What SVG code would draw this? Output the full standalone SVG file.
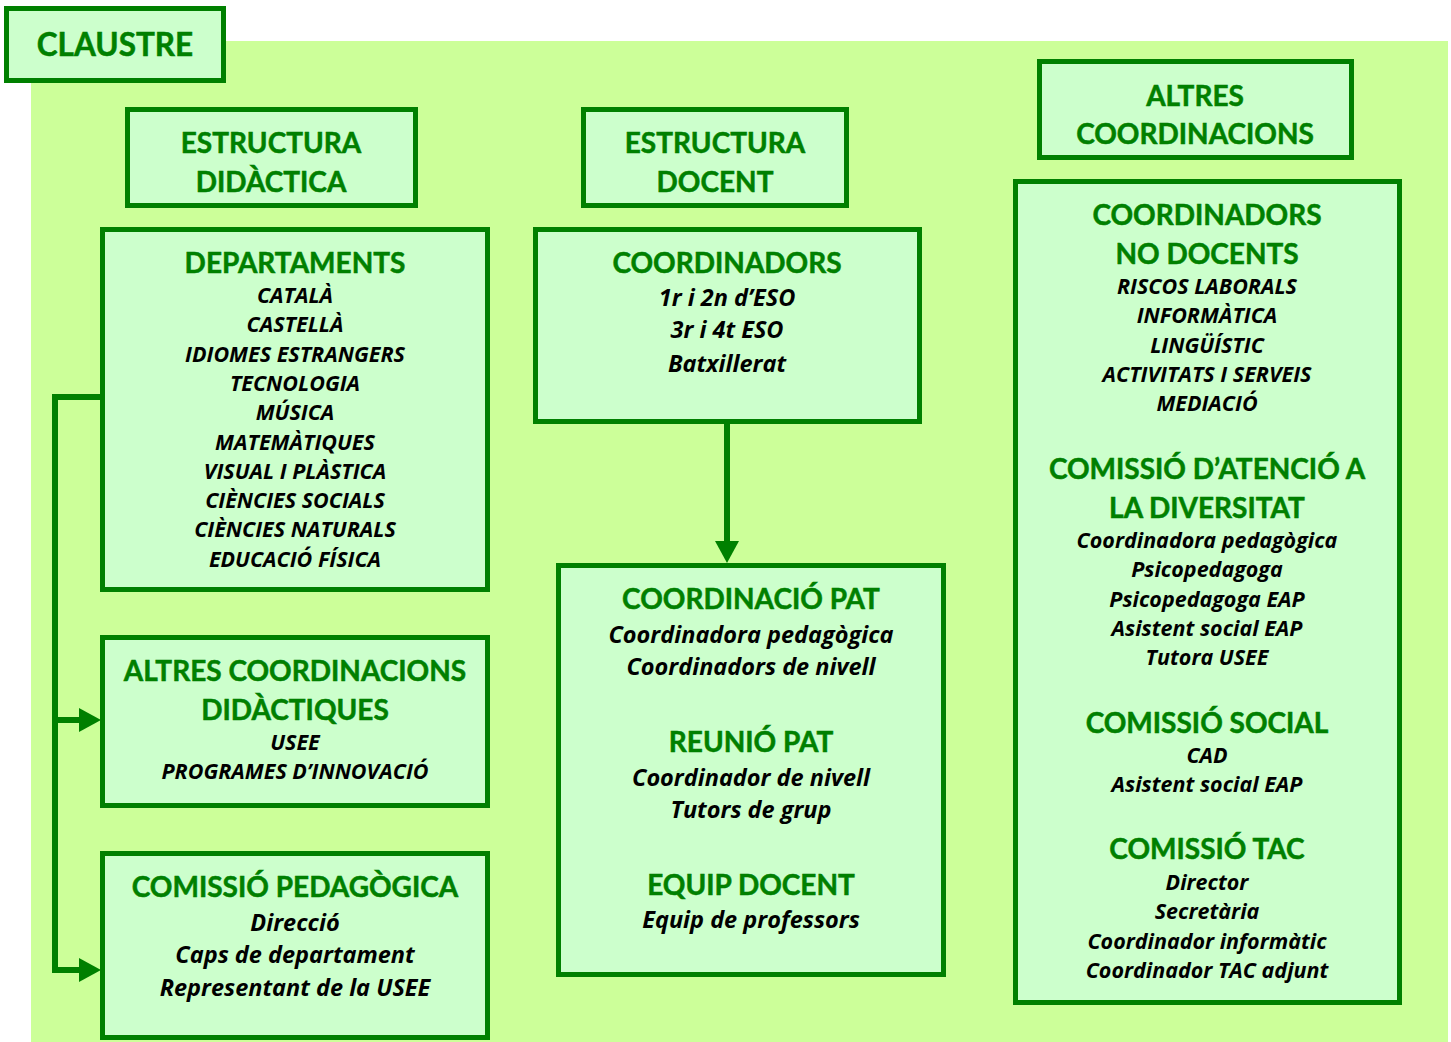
<svg xmlns="http://www.w3.org/2000/svg" width="1451" height="1042" viewBox="0 0 1451 1042">
<style>
.box{fill:#ccffcc;stroke:#008000;stroke-width:5}
.h{font-family:Lato,"Liberation Sans",sans-serif;font-weight:bold;fill:#008000;stroke:#008000;stroke-width:0.5;font-size:28px;text-anchor:middle}
.i{font-family:"Open Sans","Liberation Sans",sans-serif;font-weight:bold;font-style:italic;fill:#000;font-size:21.5px;text-anchor:middle}
.m{font-size:23.5px}
.conn{fill:none;stroke:#008000;stroke-width:6}
</style>
<defs>
<marker id="ah" markerUnits="userSpaceOnUse" markerWidth="22" markerHeight="24" refX="0" refY="12" orient="auto" viewBox="0 0 22 24">
<path d="M0,0 L22,12 L0,24 z" fill="#008000"/>
</marker>
</defs>
<rect x="31" y="41" width="1417" height="1001" fill="#ccff99"/>
<g id="claustre">
<rect class="box" x="6.5" y="8.5" width="217" height="72"/>
<text class="h" x="115" y="56" style="font-size:31.5px">CLAUSTRE</text>
</g>
<g id="estructura-didactica">
<rect class="box" x="127.5" y="109.5" width="288" height="96"/>
<text class="h" x="271" y="153">ESTRUCTURA</text>
<text class="h" x="271" y="192">DIDÀCTICA</text>
</g>
<g id="estructura-docent">
<rect class="box" x="583.5" y="109.5" width="263" height="96"/>
<text class="h" x="715" y="153">ESTRUCTURA</text>
<text class="h" x="715" y="192">DOCENT</text>
</g>
<g id="altres-coordinacions">
<rect class="box" x="1039.5" y="61.5" width="312" height="96"/>
<text class="h" x="1195" y="106">ALTRES</text>
<text class="h" x="1195" y="144">COORDINACIONS</text>
</g>
<g id="departaments">
<rect class="box" x="102.5" y="229.5" width="385" height="360"/>
<text class="h" x="295" y="273">DEPARTAMENTS</text>
<text class="i" x="295" y="303">CATALÀ</text>
<text class="i" x="295" y="332">CASTELLÀ</text>
<text class="i" x="295" y="362">IDIOMES ESTRANGERS</text>
<text class="i" x="295" y="391">TECNOLOGIA</text>
<text class="i" x="295" y="420">MÚSICA</text>
<text class="i" x="295" y="450">MATEMÀTIQUES</text>
<text class="i" x="295" y="479">VISUAL I PLÀSTICA</text>
<text class="i" x="295" y="508">CIÈNCIES SOCIALS</text>
<text class="i" x="295" y="537">CIÈNCIES NATURALS</text>
<text class="i" x="295" y="567">EDUCACIÓ FÍSICA</text>
</g>
<g id="altres-coordinacions-didactiques">
<rect class="box" x="102.5" y="637.5" width="385" height="168"/>
<text class="h" x="295" y="681">ALTRES COORDINACIONS</text>
<text class="h" x="295" y="720">DIDÀCTIQUES</text>
<text class="i" x="295" y="750">USEE</text>
<text class="i" x="295" y="779">PROGRAMES D’INNOVACIÓ</text>
</g>
<g id="comissio-pedagogica">
<rect class="box" x="102.5" y="853.5" width="385" height="184"/>
<text class="h" x="295" y="897">COMISSIÓ PEDAGÒGICA</text>
<text class="i m" x="295" y="931">Direcció</text>
<text class="i m" x="295" y="963">Caps de departament</text>
<text class="i m" x="295" y="996">Representant de la USEE</text>
</g>
<g id="coordinadors">
<rect class="box" x="535.5" y="229.5" width="384" height="192"/>
<text class="h" x="727" y="273">COORDINADORS</text>
<text class="i m" x="727" y="306">1r i 2n d’ESO</text>
<text class="i m" x="727" y="338">3r i 4t ESO</text>
<text class="i m" x="727" y="372">Batxillerat</text>
</g>
<g id="pat">
<rect class="box" x="558.5" y="565.5" width="385" height="409"/>
<text class="h" x="751" y="609">COORDINACIÓ PAT</text>
<text class="i m" x="751" y="643">Coordinadora pedagògica</text>
<text class="i m" x="751" y="675">Coordinadors de nivell</text>
<text class="h" x="751" y="752">REUNIÓ PAT</text>
<text class="i m" x="751" y="786">Coordinador de nivell</text>
<text class="i m" x="751" y="818">Tutors de grup</text>
<text class="h" x="751" y="895">EQUIP DOCENT</text>
<text class="i m" x="751" y="928">Equip de professors</text>
</g>
<g id="altres-detall">
<rect class="box" x="1015.5" y="181.5" width="384" height="821"/>
<text class="h" x="1207" y="225">COORDINADORS</text>
<text class="h" x="1207" y="264">NO DOCENTS</text>
<text class="i" x="1207" y="294">RISCOS LABORALS</text>
<text class="i" x="1207" y="323">INFORMÀTICA</text>
<text class="i" x="1207" y="353">LINGÜÍSTIC</text>
<text class="i" x="1207" y="382">ACTIVITATS I SERVEIS</text>
<text class="i" x="1207" y="411">MEDIACIÓ</text>
<text class="h" x="1207" y="479">COMISSIÓ D’ATENCIÓ A</text>
<text class="h" x="1207" y="518">LA DIVERSITAT</text>
<text class="i" x="1207" y="548">Coordinadora pedagògica</text>
<text class="i" x="1207" y="577">Psicopedagoga</text>
<text class="i" x="1207" y="607">Psicopedagoga EAP</text>
<text class="i" x="1207" y="636">Asistent social EAP</text>
<text class="i" x="1207" y="665">Tutora USEE</text>
<text class="h" x="1207" y="733">COMISSIÓ SOCIAL</text>
<text class="i" x="1207" y="763">CAD</text>
<text class="i" x="1207" y="792">Asistent social EAP</text>
<text class="h" x="1207" y="859">COMISSIÓ TAC</text>
<text class="i" x="1207" y="890">Director</text>
<text class="i" x="1207" y="919">Secretària</text>
<text class="i" x="1207" y="949">Coordinador informàtic</text>
<text class="i" x="1207" y="978">Coordinador TAC adjunt</text>
</g>
<g id="connectors">
<path class="conn" d="M101,397 H55 V970 H79" marker-end="url(#ah)"/>
<path class="conn" d="M55,720 H79" marker-end="url(#ah)"/>
<path class="conn" d="M727,424 V541" marker-end="url(#ah)"/>
</g>
</svg>
